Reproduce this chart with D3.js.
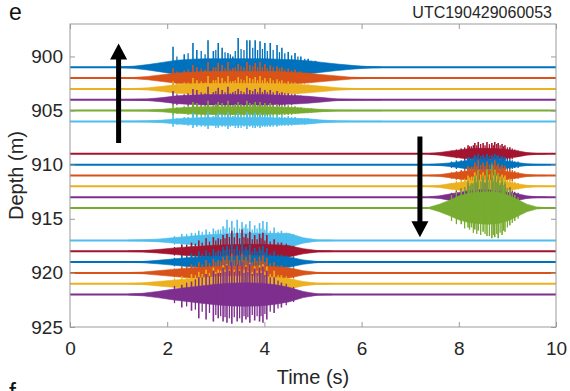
<!DOCTYPE html>
<html>
<head>
<meta charset="utf-8">
<script src="https://cdn.jsdelivr.net/npm/d3@7"></script>
<style>
  body { margin: 0; background: #fff; }
  svg { display: block; font-family: "Liberation Sans", Arial, Helvetica, sans-serif; }
</style>
</head>
<body>
<svg id="chart" width="570" height="391"></svg>
<script>
// MATLAB default line colour order; traces cycle through it in depth order
const palette = ["#0072BD", "#D95319", "#EDB120", "#7E2F8E", "#77AC30", "#4DBEEE", "#A2142F"];

// Axis ticks
const timeTicks = [0, 2, 4, 6, 8, 10];
const depthTicks = [900, 905, 910, 915, 920, 925];

// ---- Upper group: receivers 901-906 m, event at ~1.3-6.2 s ----
const topDepths = [901, 902, 903, 904, 905, 906];
const topEnvT = [1.0, 1.3, 1.6, 1.9, 2.2, 2.5, 2.8, 3.1, 3.4, 3.7, 4.0, 4.3, 4.6, 4.9, 5.2, 5.5, 5.8, 6.1, 6.4];
// half-width of the dense part of each trace (m)
const topEnv = [
  [0.03, 0.10, 0.25, 0.45, 0.65, 0.75, 0.80, 0.80, 0.80, 0.80, 0.80, 0.75, 0.70, 0.60, 0.45, 0.30, 0.18, 0.08, 0.03],
  [0.02, 0.05, 0.15, 0.32, 0.48, 0.55, 0.60, 0.62, 0.62, 0.62, 0.62, 0.60, 0.52, 0.44, 0.32, 0.20, 0.08, 0.04, 0.02],
  [0.02, 0.04, 0.10, 0.24, 0.40, 0.48, 0.50, 0.50, 0.50, 0.50, 0.50, 0.48, 0.44, 0.36, 0.24, 0.12, 0.05, 0.03, 0.02],
  [0.02, 0.04, 0.08, 0.20, 0.36, 0.44, 0.48, 0.48, 0.48, 0.48, 0.48, 0.44, 0.40, 0.32, 0.20, 0.08, 0.04, 0.02, 0.02],
  [0.02, 0.03, 0.05, 0.12, 0.24, 0.32, 0.36, 0.36, 0.36, 0.36, 0.36, 0.32, 0.28, 0.20, 0.10, 0.04, 0.03, 0.02, 0.02],
  [0.02, 0.03, 0.05, 0.12, 0.24, 0.32, 0.36, 0.36, 0.36, 0.36, 0.36, 0.32, 0.28, 0.24, 0.12, 0.05, 0.03, 0.02, 0.02]
];
const topSpikeT = [2.12, 2.35, 2.53, 2.61, 2.84, 2.95, 3.05, 3.13, 3.25, 3.35, 3.46, 3.64, 3.70, 3.81, 3.91, 4.01, 4.12, 4.26, 4.36, 4.49, 4.63, 4.75, 4.90, 5.05];
// peak excursions of the strongest arrivals: up (shallower) and down (deeper), m
const topUp = [
  [1.90, 1.20, 2.25, 1.60, 2.50, 1.50, 2.25, 1.80, 1.33, 1.00, 2.70, 2.50, 2.50, 2.50, 2.40, 2.25, 2.25, 2.07, 1.80, 1.42, 1.33, 1.00, 0.80, 0.60],
  [0.9, 0.7, 1.2, 1.0, 1.5, 1.0, 1.4, 1.2, 1.5, 0.9, 1.3, 1.5, 1.2, 1.4, 1.5, 1.3, 1.2, 1.1, 1.0, 0.9, 0.8, 0.6, 0.5, 0.4],
  [0.7, 0.6, 1.0, 0.8, 1.2, 0.8, 1.1, 1.0, 1.2, 0.7, 1.1, 1.2, 1.0, 1.1, 1.2, 1.0, 1.0, 0.9, 0.8, 0.7, 0.6, 0.5, 0.4, 0.3],
  [0.8, 0.5, 1.0, 0.9, 1.2, 0.7, 1.1, 0.9, 1.2, 0.7, 1.0, 1.1, 0.9, 1.0, 1.1, 0.9, 0.9, 0.8, 0.7, 0.6, 0.5, 0.4, 0.3, 0.2],
  [0.6, 0.4, 0.8, 0.7, 0.9, 0.5, 0.8, 0.7, 0.9, 0.5, 0.8, 0.9, 0.7, 0.8, 0.8, 0.7, 0.7, 0.6, 0.5, 0.5, 0.4, 0.3, 0.2, 0.1],
  [0.6, 0.4, 0.8, 0.6, 0.9, 0.5, 0.8, 0.7, 0.9, 0.5, 0.8, 0.9, 0.7, 0.8, 0.8, 0.7, 0.7, 0.6, 0.6, 0.5, 0.4, 0.3, 0.3, 0.2]
];
const topDown = [
  [1.2, 0.8, 1.5, 1.0, 1.6, 1.0, 1.4, 1.2, 0.9, 0.7, 1.7, 1.6, 1.6, 1.6, 1.5, 1.4, 1.4, 1.3, 1.2, 1.0, 0.9, 0.7, 0.6, 0.4],
  [0.7, 0.5, 0.9, 0.8, 1.1, 0.8, 1.0, 0.9, 1.1, 0.7, 1.0, 1.1, 0.9, 1.0, 1.1, 1.0, 0.9, 0.8, 0.8, 0.7, 0.6, 0.5, 0.4, 0.3],
  [0.5, 0.4, 0.8, 0.6, 0.9, 0.6, 0.8, 0.7, 0.9, 0.5, 0.8, 0.9, 0.7, 0.8, 0.9, 0.8, 0.7, 0.7, 0.6, 0.5, 0.5, 0.4, 0.3, 0.2],
  [0.5, 0.4, 0.7, 0.6, 0.8, 0.5, 0.7, 0.6, 0.8, 0.5, 0.7, 0.8, 0.6, 0.7, 0.8, 0.6, 0.6, 0.6, 0.5, 0.4, 0.4, 0.3, 0.2, 0.2],
  [0.4, 0.3, 0.6, 0.5, 0.7, 0.4, 0.6, 0.5, 0.7, 0.4, 0.6, 0.7, 0.5, 0.6, 0.6, 0.5, 0.5, 0.5, 0.4, 0.4, 0.3, 0.2, 0.2, 0.1],
  [0.5, 0.3, 0.6, 0.5, 0.7, 0.4, 0.6, 0.5, 0.7, 0.4, 0.6, 0.7, 0.5, 0.6, 0.6, 0.5, 0.5, 0.5, 0.4, 0.4, 0.3, 0.2, 0.2, 0.1]
];
// weaker oscillations between the main arrivals (symmetric half-amplitude, m)
const topMinorT = [2.20, 2.43, 2.70, 2.78, 3.00, 3.19, 3.30, 3.40, 3.52, 3.58, 3.76, 3.86, 3.96, 4.06, 4.18, 4.31, 4.42, 4.56, 4.69, 4.83, 4.97];
const topMinor = [
  [1.0, 1.3, 1.5, 1.2, 1.6, 1.4, 1.2, 1.5, 1.7, 1.6, 1.8, 1.6, 1.7, 1.5, 1.6, 1.4, 1.3, 1.1, 1.0, 0.8, 0.6],
  [0.6, 0.8, 0.9, 0.8, 1.0, 0.9, 0.8, 1.0, 1.1, 1.0, 1.1, 1.0, 1.0, 0.9, 1.0, 0.9, 0.8, 0.7, 0.6, 0.5, 0.4],
  [0.5, 0.6, 0.7, 0.6, 0.8, 0.7, 0.7, 0.8, 0.9, 0.8, 0.9, 0.8, 0.8, 0.7, 0.8, 0.7, 0.6, 0.6, 0.5, 0.4, 0.3],
  [0.5, 0.6, 0.7, 0.6, 0.8, 0.7, 0.6, 0.8, 0.8, 0.7, 0.8, 0.7, 0.7, 0.7, 0.7, 0.6, 0.6, 0.5, 0.4, 0.3, 0.2],
  [0.3, 0.4, 0.5, 0.5, 0.6, 0.5, 0.5, 0.6, 0.6, 0.5, 0.6, 0.5, 0.5, 0.5, 0.5, 0.4, 0.4, 0.4, 0.3, 0.2, 0.2],
  [0.3, 0.4, 0.5, 0.5, 0.6, 0.5, 0.5, 0.6, 0.6, 0.5, 0.6, 0.5, 0.5, 0.5, 0.5, 0.4, 0.4, 0.4, 0.3, 0.3, 0.2]
];

// ---- Middle group: receivers 909-914 m, event at ~7.4-9.8 s ----
const midDepths = [909, 910, 911, 912, 913, 914];
const midEnvT = [7.4, 7.6, 7.8, 8.0, 8.2, 8.4, 8.6, 8.8, 9.0, 9.2, 9.4, 9.6, 9.8];
const midEnv = [
  [0.04, 0.12, 0.25, 0.36, 0.48, 0.52, 0.52, 0.48, 0.40, 0.28, 0.12, 0.04, 0.02],
  [0.03, 0.08, 0.16, 0.28, 0.40, 0.44, 0.44, 0.40, 0.32, 0.20, 0.08, 0.03, 0.02],
  [0.03, 0.08, 0.20, 0.32, 0.44, 0.48, 0.48, 0.44, 0.36, 0.24, 0.10, 0.03, 0.02],
  [0.03, 0.10, 0.24, 0.36, 0.48, 0.56, 0.56, 0.48, 0.40, 0.24, 0.10, 0.03, 0.02],
  [0.04, 0.12, 0.28, 0.44, 0.60, 0.68, 0.68, 0.60, 0.48, 0.32, 0.12, 0.04, 0.02],
  [0.08, 0.35, 0.70, 1.10, 1.35, 1.45, 1.50, 1.45, 1.20, 0.80, 0.35, 0.10, 0.03]
];
const midSpikeT = [8.05, 8.19, 8.26, 8.33, 8.40, 8.50, 8.58, 8.68, 8.74, 8.81, 8.89, 8.95, 9.05, 9.15];
const midUp = [
  [0.5, 0.8, 0.7, 1.0, 1.1, 1.0, 1.1, 1.0, 1.1, 1.0, 0.9, 0.8, 0.6, 0.4],
  [0.4, 0.7, 0.6, 0.9, 1.0, 0.9, 1.0, 0.9, 1.0, 0.9, 0.8, 0.7, 0.5, 0.3],
  [0.5, 0.9, 0.8, 1.2, 1.4, 1.2, 1.3, 1.2, 1.4, 1.1, 1.0, 0.9, 0.6, 0.4],
  [0.6, 1.0, 0.9, 1.3, 1.5, 1.3, 1.5, 1.3, 1.5, 1.2, 1.1, 1.0, 0.7, 0.4],
  [0.8, 1.3, 1.2, 1.7, 2.0, 1.7, 1.9, 1.8, 2.0, 1.6, 1.4, 1.2, 0.9, 0.5],
  [1.8, 2.5, 2.3, 3.0, 3.5, 3.0, 3.6, 4.0, 3.4, 3.2, 2.8, 2.4, 1.8, 1.2]
];
const midDown = [
  [0.4, 0.6, 0.5, 0.8, 0.8, 0.8, 0.8, 0.8, 0.8, 0.7, 0.7, 0.6, 0.5, 0.3],
  [0.3, 0.5, 0.5, 0.7, 0.8, 0.7, 0.8, 0.7, 0.8, 0.7, 0.6, 0.5, 0.4, 0.3],
  [0.4, 0.6, 0.6, 0.8, 0.9, 0.8, 0.9, 0.8, 0.9, 0.8, 0.7, 0.6, 0.5, 0.3],
  [0.4, 0.7, 0.6, 0.9, 1.0, 0.9, 1.0, 0.9, 1.0, 0.8, 0.7, 0.6, 0.5, 0.3],
  [0.6, 0.9, 0.8, 1.1, 1.2, 1.1, 1.2, 1.1, 1.2, 1.0, 0.9, 0.8, 0.6, 0.4],
  [1.5, 1.8, 1.8, 2.0, 2.1, 2.2, 2.6, 2.8, 2.7, 2.8, 2.5, 2.2, 1.6, 1.2]
];
const midMinorT = [7.85, 7.95, 8.12, 8.22, 8.30, 8.37, 8.45, 8.54, 8.63, 8.71, 8.78, 8.85, 8.92, 9.00, 9.10, 9.22];
const midMinor = [
  [0.3, 0.4, 0.6, 0.7, 0.8, 0.8, 0.9, 0.8, 0.9, 0.8, 0.9, 0.8, 0.7, 0.6, 0.5, 0.3],
  [0.3, 0.4, 0.5, 0.6, 0.7, 0.7, 0.8, 0.7, 0.8, 0.7, 0.8, 0.7, 0.6, 0.5, 0.4, 0.3],
  [0.3, 0.4, 0.6, 0.7, 0.8, 0.9, 1.0, 0.9, 1.0, 0.9, 0.9, 0.8, 0.7, 0.6, 0.5, 0.3],
  [0.3, 0.5, 0.7, 0.8, 0.9, 1.0, 1.1, 1.0, 1.1, 1.0, 1.0, 0.9, 0.8, 0.6, 0.5, 0.3],
  [0.4, 0.6, 0.9, 1.0, 1.2, 1.3, 1.4, 1.3, 1.4, 1.3, 1.3, 1.1, 1.0, 0.8, 0.6, 0.4],
  [1.2, 1.5, 1.9, 2.0, 2.3, 2.4, 2.5, 2.4, 2.6, 2.5, 2.4, 2.3, 2.1, 1.8, 1.4, 1.0]
];

// ---- Lower group: receivers 917-922 m, event at ~1.2-5.4 s ----
const lowDepths = [917, 918, 919, 920, 921, 922];
const lowEnvT = [1.2, 1.5, 1.8, 2.1, 2.4, 2.7, 3.0, 3.3, 3.6, 3.9, 4.2, 4.5, 4.8, 5.1, 5.4];
const lowEnv = [
  [0.03, 0.06, 0.12, 0.24, 0.36, 0.48, 0.56, 0.64, 0.68, 0.68, 0.66, 0.66, 0.25, 0.05, 0.03],
  [0.03, 0.06, 0.16, 0.28, 0.40, 0.48, 0.56, 0.60, 0.64, 0.64, 0.60, 0.52, 0.24, 0.06, 0.03],
  [0.03, 0.06, 0.16, 0.28, 0.40, 0.48, 0.56, 0.56, 0.60, 0.60, 0.56, 0.48, 0.20, 0.05, 0.03],
  [0.03, 0.08, 0.20, 0.32, 0.44, 0.52, 0.60, 0.64, 0.64, 0.64, 0.56, 0.48, 0.20, 0.05, 0.03],
  [0.03, 0.08, 0.20, 0.32, 0.44, 0.56, 0.64, 0.68, 0.72, 0.68, 0.60, 0.48, 0.20, 0.05, 0.03],
  [0.04, 0.12, 0.28, 0.48, 0.64, 0.80, 0.95, 1.05, 1.08, 1.05, 0.92, 0.68, 0.28, 0.06, 0.03]
];
const lowSpikeT = [2.30, 2.50, 2.65, 2.80, 2.95, 3.05, 3.15, 3.23, 3.33, 3.44, 3.54, 3.62, 3.70, 3.80, 3.90, 3.97, 4.05, 4.20, 4.35];
const lowUp = [
  [0.6, 0.7, 0.9, 1.0, 1.1, 1.0, 1.3, 1.9, 1.8, 1.9, 1.7, 1.5, 1.8, 1.4, 1.6, 1.8, 1.7, 1.2, 0.9],
  [0.6, 0.8, 1.0, 1.2, 1.3, 1.2, 1.5, 1.6, 1.9, 1.7, 2.0, 1.6, 1.8, 1.5, 1.6, 1.7, 1.5, 1.1, 0.8],
  [0.6, 0.8, 1.0, 1.1, 1.2, 1.1, 1.4, 1.5, 1.6, 1.5, 1.7, 1.4, 1.6, 1.3, 1.4, 1.5, 1.3, 1.0, 0.7],
  [0.6, 0.8, 1.0, 1.2, 1.3, 1.2, 1.5, 1.6, 1.8, 1.6, 1.8, 1.5, 1.7, 1.4, 1.5, 1.6, 1.4, 1.0, 0.7],
  [0.7, 0.9, 1.1, 1.3, 1.5, 1.3, 1.7, 1.8, 2.0, 1.8, 2.0, 1.7, 1.9, 1.6, 1.7, 1.8, 1.6, 1.2, 0.8],
  [0.9, 1.2, 1.6, 1.9, 2.2, 2.0, 2.5, 2.7, 3.0, 2.8, 3.0, 2.6, 2.8, 2.4, 2.5, 2.6, 2.2, 1.6, 1.1]
];
const lowDown = [
  [0.5, 0.6, 0.7, 0.8, 0.9, 0.8, 1.0, 1.2, 1.2, 1.2, 1.1, 1.0, 1.1, 0.9, 1.0, 1.1, 1.0, 0.8, 0.6],
  [0.5, 0.6, 0.8, 0.9, 1.0, 0.9, 1.1, 1.2, 1.3, 1.2, 1.3, 1.1, 1.2, 1.0, 1.1, 1.2, 1.0, 0.8, 0.6],
  [0.4, 0.6, 0.7, 0.8, 0.9, 0.8, 1.0, 1.1, 1.1, 1.1, 1.2, 1.0, 1.1, 0.9, 1.0, 1.1, 0.9, 0.7, 0.5],
  [0.4, 0.6, 0.7, 0.8, 0.9, 0.8, 1.0, 1.1, 1.2, 1.1, 1.2, 1.0, 1.1, 1.0, 1.0, 1.1, 1.0, 0.7, 0.5],
  [0.5, 0.6, 0.8, 0.9, 1.0, 0.9, 1.1, 1.2, 1.3, 1.2, 1.3, 1.1, 1.2, 1.0, 1.1, 1.2, 1.0, 0.8, 0.6],
  [1.2, 1.5, 2.2, 2.3, 2.5, 2.2, 2.5, 2.6, 2.7, 2.5, 2.6, 2.3, 2.6, 2.4, 2.5, 2.6, 2.3, 1.7, 1.2]
];
const lowMinorT = [2.15, 2.40, 2.58, 2.72, 2.87, 3.00, 3.10, 3.19, 3.28, 3.38, 3.49, 3.58, 3.66, 3.75, 3.85, 3.93, 4.01, 4.12, 4.28, 4.45, 4.60];
const lowMinor = [
  [0.4, 0.6, 0.7, 0.8, 0.8, 0.9, 1.0, 1.1, 1.2, 1.2, 1.1, 1.2, 1.1, 1.0, 1.1, 1.1, 1.0, 0.9, 0.8, 0.7, 0.6],
  [0.4, 0.6, 0.7, 0.8, 0.9, 1.0, 1.1, 1.2, 1.3, 1.3, 1.2, 1.3, 1.2, 1.1, 1.1, 1.2, 1.0, 0.9, 0.8, 0.7, 0.5],
  [0.4, 0.6, 0.7, 0.8, 0.9, 0.9, 1.0, 1.1, 1.2, 1.2, 1.1, 1.1, 1.1, 1.0, 1.0, 1.1, 0.9, 0.8, 0.7, 0.6, 0.5],
  [0.4, 0.6, 0.7, 0.8, 0.9, 1.0, 1.1, 1.2, 1.2, 1.2, 1.2, 1.2, 1.1, 1.0, 1.1, 1.1, 1.0, 0.9, 0.7, 0.6, 0.5],
  [0.5, 0.6, 0.8, 0.9, 1.0, 1.1, 1.2, 1.3, 1.3, 1.3, 1.3, 1.3, 1.2, 1.1, 1.2, 1.2, 1.1, 0.9, 0.8, 0.7, 0.5],
  [0.8, 1.1, 1.4, 1.6, 1.7, 1.9, 2.0, 2.1, 2.2, 2.1, 2.2, 2.0, 2.1, 1.9, 2.0, 2.0, 1.8, 1.6, 1.3, 1.0, 0.7]
];

// Propagation-direction arrows: time (s), tail depth, head depth (m)
const arrowT = [1.0, 7.2];
const arrowFrom = [908.0, 907.4];
const arrowTo = [898.8, 916.7];

const groups = [
  { depths: topDepths, envT: topEnvT, env: topEnv, spikeT: topSpikeT, up: topUp, down: topDown, minorT: topMinorT, minor: topMinor },
  { depths: midDepths, envT: midEnvT, env: midEnv, spikeT: midSpikeT, up: midUp, down: midDown, minorT: midMinorT, minor: midMinor },
  { depths: lowDepths, envT: lowEnvT, env: lowEnv, spikeT: lowSpikeT, up: lowUp, down: lowDown, minorT: lowMinorT, minor: lowMinor }
];

const svg = d3.select("#chart");
const plot = { left: 70, right: 556, top: 24, bottom: 327 };

const x = d3.scaleLinear().domain([0, 10]).range([plot.left, plot.right]);
const y = d3.scaleLinear().domain([897, 925]).range([plot.top, plot.bottom]);

svg.append("defs").append("clipPath").attr("id", "plot-clip")
  .append("rect")
  .attr("x", plot.left).attr("y", plot.top)
  .attr("width", plot.right - plot.left).attr("height", plot.bottom - plot.top);

const traces = svg.append("g").attr("clip-path", "url(#plot-clip)");

const baseLine = d3.line().x(d => x(d[0])).y(d => y(d[1]));
let traceIndex = 0;
groups.forEach(g => {
  g.depths.forEach((depth, k) => {
    const color = palette[traceIndex % palette.length];
    traceIndex++;
    const tg = traces.append("g");

    // quiet background record
    tg.append("path")
      .attr("d", baseLine([[0, depth], [10, depth]]))
      .attr("fill", "none").attr("stroke", color).attr("stroke-width", 2);

    // dense coda envelope
    const band = d3.area()
      .x(d => x(d[0]))
      .y0(d => y(depth + d[1]))
      .y1(d => y(depth - d[1]));
    tg.append("path")
      .attr("d", band(g.envT.map((t, i) => [t, g.env[k][i]])))
      .attr("fill", color).attr("stroke", color).attr("stroke-width", 0.6);

    // weaker oscillations
    tg.selectAll("line.minor")
      .data(g.minorT.map((t, i) => ({ t, a: g.minor[k][i] })))
      .join("line")
      .attr("class", "minor")
      .attr("x1", d => x(d.t)).attr("x2", d => x(d.t))
      .attr("y1", d => y(depth - d.a)).attr("y2", d => y(depth + d.a))
      .attr("stroke", color).attr("stroke-width", 1.3);

    // strongest arrivals
    tg.selectAll("line.spike")
      .data(g.spikeT.map((t, i) => ({ t, up: g.up[k][i], down: g.down[k][i] })))
      .join("line")
      .attr("class", "spike")
      .attr("x1", d => x(d.t)).attr("x2", d => x(d.t))
      .attr("y1", d => y(depth - d.up)).attr("y2", d => y(depth + d.down))
      .attr("stroke", color).attr("stroke-width", 1.6);
  });
});

// Axes, MATLAB style: inward ticks on all four sides
const axisColor = "#9b9b9b";
const labelColor = "#262626";

function styleAxis(sel) {
  sel.select(".domain").remove();
  sel.selectAll(".tick line").attr("stroke", axisColor);
  sel.selectAll(".tick text").attr("fill", labelColor).attr("font-size", 19);
}

svg.append("g")
  .attr("transform", `translate(0,${plot.bottom})`)
  .call(d3.axisBottom(x).tickValues(timeTicks).tickFormat(d3.format("d")).tickSize(-5).tickPadding(15))
  .call(styleAxis);

svg.append("g")
  .attr("transform", `translate(0,${plot.top})`)
  .call(d3.axisTop(x).tickValues(timeTicks).tickFormat("").tickSize(-5))
  .call(styleAxis);

svg.append("g")
  .attr("transform", `translate(${plot.left},0)`)
  .call(d3.axisLeft(y).tickValues(depthTicks).tickFormat(d3.format("d")).tickSize(-5).tickPadding(7))
  .call(styleAxis);

svg.append("g")
  .attr("transform", `translate(${plot.right},0)`)
  .call(d3.axisRight(y).tickValues(depthTicks).tickFormat("").tickSize(-5))
  .call(styleAxis);

svg.append("rect")
  .attr("x", plot.left).attr("y", plot.top)
  .attr("width", plot.right - plot.left).attr("height", plot.bottom - plot.top)
  .attr("fill", "none").attr("stroke", axisColor).attr("stroke-width", 1);

// Arrows showing the direction of wave travel
const arrows = svg.append("g");
arrowT.forEach((t, i) => {
  const ax = x(t);
  const y0 = y(arrowFrom[i]);
  const y1 = y(arrowTo[i]);
  const dir = Math.sign(y1 - y0);
  const headLen = 16, headHalf = 8.5, shaftHalf = 2.5;
  const yb = y1 - dir * headLen;
  arrows.append("path")
    .attr("d", `M${ax - shaftHalf},${y0} L${ax + shaftHalf},${y0} L${ax + shaftHalf},${yb} ` +
               `L${ax + headHalf},${yb} L${ax},${y1} L${ax - headHalf},${yb} L${ax - shaftHalf},${yb} Z`)
    .attr("fill", "#000");
});

// Text
svg.append("text")
  .attr("x", (plot.left + plot.right) / 2).attr("y", 384)
  .attr("text-anchor", "middle").attr("font-size", 20).attr("fill", labelColor)
  .text("Time (s)");

svg.append("text")
  .attr("transform", `translate(23,${(plot.top + plot.bottom) / 2}) rotate(-90)`)
  .attr("text-anchor", "middle").attr("font-size", 20).attr("fill", labelColor)
  .text("Depth (m)");

svg.append("text")
  .attr("x", 552).attr("y", 18)
  .attr("text-anchor", "end").attr("font-size", 16).attr("fill", labelColor)
  .text("UTC190429060053");

svg.append("text")
  .attr("x", 9).attr("y", 20)
  .attr("font-size", 23).attr("fill", "#111")
  .text("e");

svg.append("text")
  .attr("x", 9).attr("y", 401)
  .attr("font-size", 25).attr("fill", "#111")
  .text("f");
</script>
</body>
</html>
